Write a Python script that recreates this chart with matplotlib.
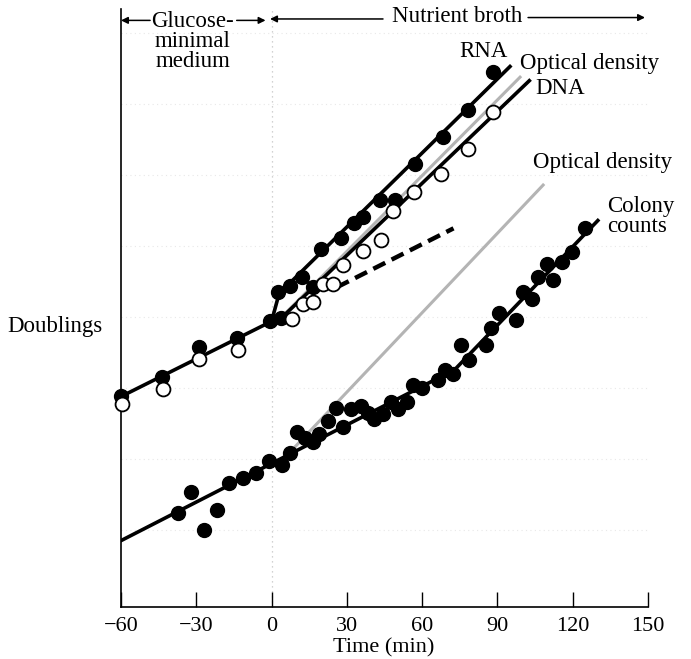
import matplotlib.pyplot as plt

plt.rcParams['font.family'] = ['Liberation Serif', 'DejaVu Serif']

# RNA (filled) and DNA (open) measurements, time in min, y in doublings
rna_t = [-60.1, -43.8, -28.9, -13.9, -0.6, 3.7, 2.7, 7.3, 12.1, 16.7, 19.7, 27.6,
         32.9, 36.5, 43.2, 49.2, 57.2, 68.4, 78.4, 88.1]
rna_y = [2.89, 3.15, 3.58, 3.70, 3.94, 3.98, 4.35, 4.44, 4.56, 4.43, 4.96, 5.11,
         5.32, 5.41, 5.65, 5.65, 6.15, 6.54, 6.92, 7.45]

dna_t = [-59.6, -43.1, -28.9, -13.3, 8.0, 12.6, 16.6, 20.4, 24.3, 28.6, 36.5,
         43.6, 48.5, 56.9, 67.7, 78.2, 88.3]
dna_y = [2.77, 2.99, 3.41, 3.54, 3.97, 4.18, 4.21, 4.46, 4.47, 4.73, 4.93,
         5.08, 5.49, 5.76, 6.02, 6.37, 6.89]

colony_t = [-37.4, -32.1, -27.1, -21.9, -16.9, -11.3, -6.3, -1.0, 4.3, 7.3, 10.0,
            13.3, 16.4, 19.0, 22.6, 25.5, 28.3, 31.6, 35.5, 38.5, 40.9, 44.3,
            47.5, 50.5, 53.8, 56.5, 59.8, 66.4, 69.1, 72.4, 75.6, 78.8, 85.4,
            87.4, 90.6, 97.3, 100.3, 103.6, 106.3, 112.0, 109.8, 115.9, 119.9, 124.9]
colony_y = [1.24, 1.53, 1.00, 1.28, 1.66, 1.73, 1.80, 1.97, 1.91, 2.08, 2.38,
            2.30, 2.24, 2.35, 2.53, 2.72, 2.45, 2.71, 2.74, 2.65, 2.57, 2.63,
            2.80, 2.71, 2.80, 3.04, 3.00, 3.11, 3.26, 3.20, 3.61, 3.39, 3.60,
            3.85, 4.06, 3.96, 4.35, 4.26, 4.56, 4.52, 4.75, 4.78, 4.92, 5.26]

# drawn lines (vertices)
glucose_line_t = [-60, 0]
glucose_line_y = [2.88, 3.94]
rna_line_t = [0, 3, 95]
rna_line_y = [3.94, 4.33, 7.53]
dna_line_t = [0, 4, 102.7]
dna_line_y = [3.94, 3.99, 7.33]
od_upper_t = [4, 99]
od_upper_y = [4.0, 7.38]
od_lower_t = [9.3, 108.2]
od_lower_y = [2.17, 5.86]
extrap_t = [26, 72.5]
extrap_y = [4.42, 5.25]
colony_line_t = [-60, 73, 130]
colony_line_y = [0.85, 3.26, 5.36]

xticks = [-60, -30, 0, 30, 60, 90, 120, 150]
grid_levels = [1, 2, 3, 4, 5, 6, 7, 8]

FS = 16.5

fig = plt.figure(figsize=(6.91, 6.59), dpi=100)
ax = fig.add_axes([0.1751, 0.0789, 0.7627, 0.9074])

# faint grid of the original paper
for g in grid_levels:
    ax.axhline(g, color='#e8e8e8', lw=0.8, ls=(0, (1, 3)), zorder=0)
ax.axvline(0, color='#c4c4c4', lw=0.9, ls=(0, (1, 3)), zorder=0)

ax.plot(od_upper_t, od_upper_y, color='#b4b4b4', lw=2.2, zorder=1)
ax.plot(od_lower_t, od_lower_y, color='#b4b4b4', lw=2.2, zorder=1)

lw = 2.6
ax.plot(glucose_line_t, glucose_line_y, color='black', lw=lw, zorder=2)
ax.plot(rna_line_t, rna_line_y, color='black', lw=lw, zorder=2)
ax.plot(dna_line_t, dna_line_y, color='black', lw=lw, zorder=2)
ax.plot(colony_line_t, colony_line_y, color='black', lw=lw, zorder=2)
ax.plot(extrap_t, extrap_y, color='black', lw=lw + 0.6, ls=(0, (3, 1.6)), zorder=2)

ms = 10
ax.plot(rna_t, rna_y, 'o', color='black', ms=ms, zorder=4, clip_on=False)
ax.plot(dna_t, dna_y, 'o', mfc='white', mec='black', mew=1.3, ms=ms, zorder=4, clip_on=False)
ax.plot(colony_t, colony_y, 'o', color='black', ms=ms, zorder=4)

ax.set_xlim(-60, 150)
ax.set_ylim(-0.085, 8.34)
ax.spines['top'].set_visible(False)
ax.spines['right'].set_visible(False)
ax.spines['left'].set_linewidth(1.2)
ax.spines['bottom'].set_linewidth(1.2)
ax.set_yticks([])
ax.set_xticks(xticks)
ax.tick_params(axis='x', direction='in', length=11, width=1.0, pad=7, labelsize=16)
fig.text(0.555, 0.0175, 'Time (min)', fontsize=16, ha='center', va='center')
fig.text(0.0796, 0.505, 'Doublings', fontsize=FS, ha='center', va='center')

# line labels
ax.text(84.6, 7.74, 'RNA', fontsize=FS, ha='center', va='center')
ax.text(99.0, 7.57, 'Optical density', fontsize=FS, ha='left', va='center')
ax.text(104.9, 7.22, 'DNA', fontsize=FS, ha='left', va='center')
ax.text(104.1, 6.18, 'Optical density', fontsize=FS, ha='left', va='center')
ax.text(133.6, 5.42, 'Colony\ncounts', fontsize=FS, ha='left', va='center', linespacing=0.95)

# medium annotations along the top
arrow = dict(arrowstyle='-|>', lw=1.1, color='black', mutation_scale=10, shrinkA=0, shrinkB=0)
ax.annotate('', xy=(-60, 8.18), xytext=(-48.4, 8.18), arrowprops=arrow)
ax.annotate('', xy=(-2.4, 8.18), xytext=(-13.9, 8.18), arrowprops=arrow)
ax.annotate('', xy=(-0.6, 8.2), xytext=(44.4, 8.2), arrowprops=arrow)
ax.annotate('', xy=(148.8, 8.22), xytext=(102.2, 8.22), arrowprops=arrow)
ax.text(-31.4, 8.17, 'Glucose-', fontsize=FS, ha='center', va='center')
ax.text(-31.4, 7.88, 'minimal', fontsize=FS, ha='center', va='center')
ax.text(-31.4, 7.60, 'medium', fontsize=FS, ha='center', va='center')
ax.text(74.1, 8.23, 'Nutrient broth', fontsize=FS, ha='center', va='center')

fig.savefig('out.png', dpi=100)
